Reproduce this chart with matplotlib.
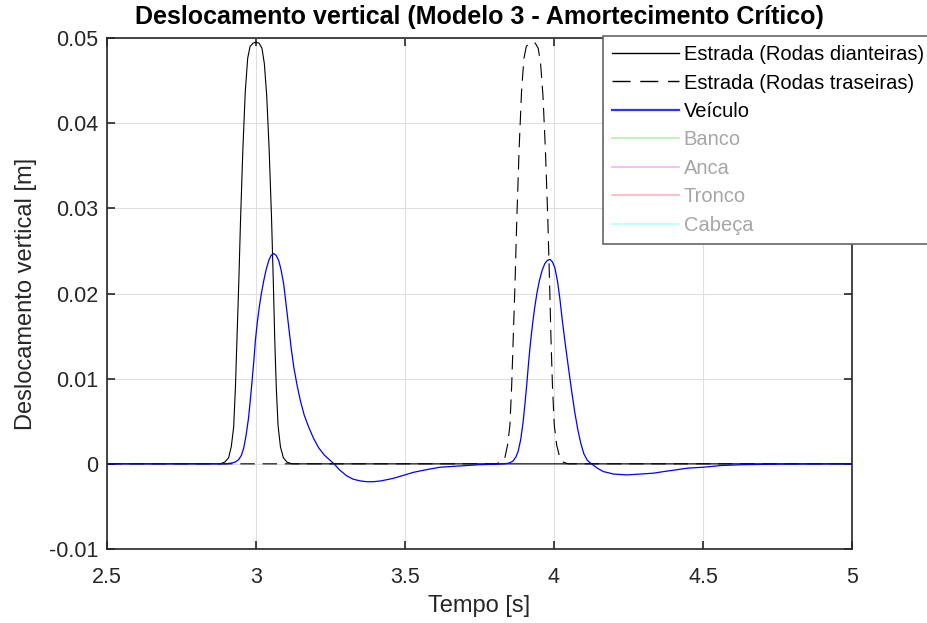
import matplotlib
matplotlib.use('Agg')
import matplotlib.pyplot as plt
from matplotlib.lines import Line2D

plt.rcParams['font.family'] = ['Liberation Sans', 'DejaVu Sans']

# Estrada (rodas dianteiras)
t_front = [2.5, 2.88, 2.895, 2.908, 2.917, 2.925, 2.931, 2.936, 2.942, 2.948, 2.956,
           2.964, 2.972, 2.980, 2.990, 3.0, 3.010, 3.020, 3.028, 3.036, 3.044, 3.052,
           3.058, 3.063, 3.068, 3.074, 3.082, 3.092, 3.104, 3.12, 5.0]
y_front = [0, 0, 0.0002, 0.0007, 0.0020, 0.0043, 0.0090, 0.0145, 0.0210, 0.0285, 0.0370,
           0.0437, 0.0476, 0.0490, 0.0494, 0.0495, 0.0494, 0.0488, 0.0470, 0.0432, 0.0370,
           0.0290, 0.0215, 0.0145, 0.0090, 0.0045, 0.0020, 0.0007, 0.0002, 0, 0]

# Estrada (rodas traseiras)
t_rear = [2.5, 3.805, 3.822, 3.835, 3.844, 3.852, 3.858, 3.863, 3.869, 3.875, 3.883,
          3.891, 3.899, 3.907, 3.917, 3.927, 3.937, 3.947, 3.955, 3.963, 3.971, 3.979,
          3.985, 3.990, 3.995, 4.001, 4.009, 4.019, 4.031, 4.047, 5.0]
y_rear = [0, 0, 0.0002, 0.0007, 0.0022, 0.0045, 0.0092, 0.0145, 0.0210, 0.0285, 0.0370,
          0.0437, 0.0476, 0.0490, 0.0494, 0.0495, 0.0494, 0.0488, 0.0470, 0.0432, 0.0370,
          0.0290, 0.0215, 0.0145, 0.0090, 0.0045, 0.0022, 0.0008, 0.0002, 0, 0]

# Veiculo
t_veh = [2.5, 2.90, 2.919, 2.930, 2.942, 2.951, 2.959, 2.967, 2.975, 2.981, 2.987, 2.993,
         2.998, 3.004, 3.011, 3.018, 3.026, 3.034, 3.043, 3.051, 3.059, 3.067, 3.076,
         3.084, 3.093, 3.101, 3.110, 3.118, 3.127, 3.138, 3.149, 3.162, 3.177, 3.193,
         3.210, 3.230, 3.249, 3.262, 3.280, 3.304, 3.326, 3.349, 3.372, 3.394, 3.42,
         3.461, 3.50, 3.528, 3.57, 3.617, 3.66, 3.707, 3.75, 3.80, 3.835, 3.850, 3.862,
         3.872, 3.880, 3.888, 3.896, 3.903, 3.909, 3.915, 3.921, 3.928, 3.935, 3.943,
         3.951, 3.960, 3.969, 3.978, 3.987, 3.995, 4.003, 4.012, 4.020, 4.028, 4.037,
         4.048, 4.059, 4.070, 4.080, 4.090, 4.100, 4.112, 4.126, 4.145, 4.165, 4.20,
         4.244, 4.29, 4.333, 4.37, 4.411, 4.45, 4.501, 4.56, 4.634, 4.75, 5.0]
y_veh = [0, 0, 0.0001, 0.0002, 0.0005, 0.0010, 0.0019, 0.0034, 0.0054, 0.0075, 0.0098,
         0.0122, 0.0145, 0.0165, 0.0184, 0.0200, 0.0215, 0.0228, 0.0239, 0.0245, 0.0247,
         0.0245, 0.0239, 0.0228, 0.0211, 0.0187, 0.0160, 0.0136, 0.0113, 0.0092, 0.0074,
         0.0057, 0.0043, 0.0030, 0.0019, 0.0010, 0.0004, 0.0, -0.0007, -0.0014, -0.0018,
         -0.0020, -0.0021, -0.0021, -0.0020, -0.0017, -0.0013, -0.0010, -0.0007, -0.0004,
         -0.0003, -0.0002, -0.0001, -0.00005, 0, 0.0001, 0.0003, 0.0008, 0.0015, 0.0028,
         0.0048, 0.0072, 0.0095, 0.0120, 0.0142, 0.0164, 0.0183, 0.0201, 0.0215, 0.0227,
         0.0235, 0.0239, 0.0240, 0.0237, 0.0230, 0.0214, 0.0193, 0.0168, 0.0143, 0.0114,
         0.0086, 0.0060, 0.0040, 0.0024, 0.0012, 0.0004, 0.0, -0.0005, -0.0009, -0.0012,
         -0.0013, -0.0012, -0.0011, -0.0009, -0.0007, -0.0005, -0.0004, -0.0002, -0.0001,
         -0.00003, 0]

labels = ['Estrada (Rodas dianteiras)', 'Estrada (Rodas traseiras)', 'Veículo',
          'Banco', 'Anca', 'Tronco', 'Cabeça']
hidden_colors = ['#b3f0b3', '#f5b3f5', '#ffb3b3', '#b3ffff']

xticks = [2.5, 3, 3.5, 4, 4.5, 5]
xticklabels = ['2.5', '3', '3.5', '4', '4.5', '5']
yticks = [-0.01, 0, 0.01, 0.02, 0.03, 0.04, 0.05]
yticklabels = ['-0.01', '0', '0.01', '0.02', '0.03', '0.04', '0.05']

txt = '#262626'
fig = plt.figure(figsize=(9.28, 6.23), dpi=100)
ax = fig.add_axes([107 / 928, 1 - 549 / 623, 745 / 928, 511 / 623])

ax.plot(t_front, y_front, color='black', lw=0.8)
ax.plot(t_rear, y_rear, color='black', lw=0.8, dashes=(13, 7))
ax.plot(t_veh, y_veh, color='blue', lw=0.9)

ax.set_xlim(2.5, 5)
ax.set_ylim(-0.01, 0.05)
ax.set_xticks(xticks)
ax.set_xticklabels(xticklabels)
ax.set_yticks(yticks)
ax.set_yticklabels(yticklabels)
ax.grid(True, color='#dfdfdf', lw=0.8)
ax.set_axisbelow(True)
ax.tick_params(direction='in', length=6, width=1.2, colors=txt, labelsize=15.5,
               top=True, right=True)
ax.tick_params(axis='x', pad=13)
ax.tick_params(axis='y', pad=6)
for s in ax.spines.values():
    s.set_color(txt)
    s.set_linewidth(1.2)

ax.set_xlabel('Tempo [s]', fontsize=17, color=txt, labelpad=5)
ax.set_ylabel('Deslocamento vertical [m]', fontsize=17, color=txt, labelpad=9)
ax.set_title('Deslocamento vertical (Modelo 3 - Amortecimento Crítico)',
             fontsize=18, fontweight='bold', color='black', pad=10)

handles = [Line2D([], [], color='black', lw=1),
           Line2D([], [], color='black', lw=1, dashes=(13, 7)),
           Line2D([], [], color='#3333ff', lw=1.6)]
handles += [Line2D([], [], color=c, lw=1.2) for c in hidden_colors]
leg = fig.legend(handles, labels, loc='upper left',
                 bbox_to_anchor=(603 / 928, 1 - 36 / 623), fontsize=14.5,
                 frameon=True, fancybox=False, framealpha=1, edgecolor='#666666',
                 handlelength=3.3, handletextpad=0.25, labelspacing=0.47,
                 borderpad=0.45, borderaxespad=0)
leg.get_frame().set_linewidth(1.2)
for i, t in enumerate(leg.get_texts()):
    t.set_color('black' if i < 3 else '#a6a6a6')

fig.savefig('out.png', dpi=100)
